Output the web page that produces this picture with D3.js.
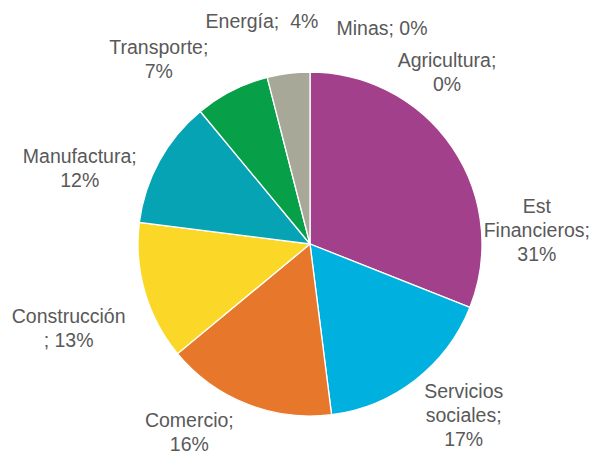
<!DOCTYPE html>
<html>
<head>
<meta charset="utf-8">
<script src="https://cdn.jsdelivr.net/npm/d3@7"></script>
<style>
  body { margin: 0; background: #fff; }
</style>
</head>
<body>
<div id="pie-sector"></div>
<script>
// sectors, clockwise from 12 o'clock
var categories = ["Agricultura", "Est Financieros", "Servicios sociales", "Comercio",
    "Construcción", "Manufactura", "Transporte", "Energía", "Minas"];
var shares = [0, 31, 17, 16, 13, 12, 7, 4, 0];
var colors = ["#9c9c9c", "#a3408b", "#00b1df", "#e7772a", "#fbd727", "#05a3b4", "#07a049", "#a8a898", "#7f7f7f"];
// label lines as in the original (Excel style "Name; x%")
var labelLines = [
    ["Agricultura;", "0%"],
    ["Est", "Financieros;", "31%"],
    ["Servicios", "sociales;", "17%"],
    ["Comercio;", "16%"],
    ["Construcción", "; 13%"],
    ["Manufactura;", "12%"],
    ["Transporte;", "7%"],
    ["Energía;  4%"],
    ["Minas; 0%"]
];
// best-fit nudges relative to the label arc
var labelNudge = [[137, 20], [68, 94], [36, 19], [-50, 10], [-57, 31], [-62, 17], [-64, -14], [-24, -32], [72, -24]];

var width = 597, height = 457;
var cx = 310, cy = 244, radius = 172;

var svg = d3.select("#pie-sector").append("svg")
    .attr("width", width)
    .attr("height", height);

var g = svg.append("g")
    .attr("transform", "translate(" + cx + "," + cy + ")");

var pie = d3.pie().sort(null).value(function(d) { return d; });
var arcs = pie(shares);

var arc = d3.arc().innerRadius(0).outerRadius(radius);
var labelArc = d3.arc().innerRadius(radius + 20).outerRadius(radius + 20);

g.selectAll("path")
    .data(arcs)
    .enter().append("path")
    .attr("d", arc)
    .style("fill", function(d, i) { return colors[i]; })
    .style("stroke", "#fff")
    .style("stroke-width", function(d) { return d.value > 0 ? 1.3 : 0; });

var lineH = 24;
var labels = g.selectAll(".lbl")
    .data(arcs)
    .enter().append("text")
    .attr("class", "lbl")
    .attr("text-anchor", "middle")
    .style("font-family", "'Liberation Sans', Arial, sans-serif")
    .style("font-size", "19.5px")
    .style("fill", "#595959")
    .attr("transform", function(d, i) {
        // pin the label at the midangle just outside the rim, then nudge
        var a = (d.startAngle + d.endAngle) / 2;
        var p = labelArc.centroid({startAngle: a, endAngle: a});
        return "translate(" + (p[0] + labelNudge[i][0]) + "," + (p[1] + labelNudge[i][1]) + ")";
    });

labels.each(function(d, i) {
    var el = d3.select(this);
    var lines = labelLines[i];
    var top = -(lines.length - 1) * lineH / 2;
    for (var k = 0; k < lines.length; k++) {
        el.append("tspan")
            .attr("x", 0)
            .attr("y", top + k * lineH)
            .attr("dy", "0.35em")
            .style("white-space", "pre")
            .text(lines[k]);
    }
});
</script>
</body>
</html>
